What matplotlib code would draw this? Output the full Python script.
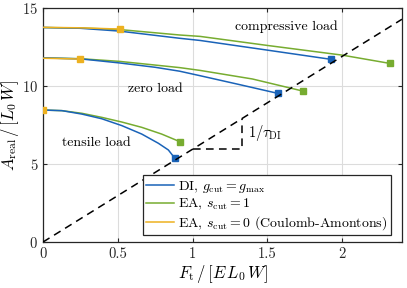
import matplotlib
matplotlib.use("Agg")
import matplotlib.pyplot as plt
import numpy as np

plt.rcParams['font.family'] = 'serif'
plt.rcParams['font.serif'] = ['cmr10']
plt.rcParams['mathtext.fontset'] = 'cm'
plt.rcParams['axes.formatter.use_mathtext'] = True

BLUE = '#1a63b8'
GREEN = '#77AC30'
ORANGE = '#EDB120'

# DI, g_cut = g_max
di_comp_x = [0.0, 0.25, 0.51, 0.913, 1.05, 1.5, 1.925]
di_comp_y = [13.75, 13.7, 13.52, 13.06, 12.92, 12.3, 11.71]
di_zero_x = [0.0, 0.25, 0.51, 0.75, 0.913, 1.05, 1.3, 1.569]
di_zero_y = [11.8, 11.74, 11.48, 11.2, 10.95, 10.66, 10.12, 9.53]
di_tens_x = [0.0, 0.127, 0.26, 0.393, 0.527, 0.66, 0.771, 0.838, 0.882]
di_tens_y = [8.46, 8.42, 8.2, 7.9, 7.46, 6.92, 6.33, 5.9, 5.36]

# EA, s_cut = 1
ea1_comp_x = [0.0, 0.25, 0.51, 0.913, 1.05, 1.5, 2.0, 2.318]
ea1_comp_y = [13.75, 13.72, 13.62, 13.27, 13.18, 12.6, 11.98, 11.45]
ea1_zero_x = [0.0, 0.25, 0.51, 0.913, 1.05, 1.4, 1.735]
ea1_zero_y = [11.8, 11.75, 11.58, 11.18, 11.0, 10.45, 9.68]
ea1_tens_x = [0.0, 0.127, 0.26, 0.393, 0.527, 0.66, 0.793, 0.915]
ea1_tens_y = [8.46, 8.42, 8.25, 7.99, 7.69, 7.35, 6.92, 6.43]

# EA, s_cut = 0 (Coulomb-Amontons)
ea0_comp_x = [0.0, 0.25, 0.513]
ea0_comp_y = [13.76, 13.73, 13.65]
ea0_zero_x = [0.0, 0.247]
ea0_zero_y = [11.78, 11.73]
ea0_tens_x = [0.0]
ea0_tens_y = [8.46]

slope_inv_tau = 5.95
x_max = 2.4
tri_x0, tri_x1 = 1.0, 1.33

fig = plt.figure(figsize=(4.07, 2.88), dpi=100)
ax = fig.add_axes([0.1057, 0.1597, 0.882, 0.8125])

lw = 1.1
ms = 3.8
series = [
    (BLUE, r'DI, $g_\mathrm{cut} = g_\mathrm{max}$',
     [(di_comp_x, di_comp_y), (di_zero_x, di_zero_y), (di_tens_x, di_tens_y)], 3),
    (GREEN, r'EA, $s_\mathrm{cut} = 1$',
     [(ea1_comp_x, ea1_comp_y), (ea1_zero_x, ea1_zero_y), (ea1_tens_x, ea1_tens_y)], 2),
    (ORANGE, r'EA, $s_\mathrm{cut} = 0$ (Coulomb-Amontons)',
     [(ea0_comp_x, ea0_comp_y), (ea0_zero_x, ea0_zero_y), (ea0_tens_x, ea0_tens_y)], 4),
]
handles = []
for color, label, curves, z in series:
    for i, (xs, ys) in enumerate(curves):
        h, = ax.plot(xs, ys, color=color, lw=lw, zorder=z,
                     label=label if i == 0 else None)
        ax.plot([xs[-1]], [ys[-1]], 's', color=color, ms=ms, zorder=z + 0.5)
        if i == 0:
            handles.append(h)

# dashed line 1/tau
xl = np.array([0.0, x_max])
ax.plot(xl, slope_inv_tau * xl, '--', color='k', lw=1.1, dashes=(5, 3.5), zorder=5)
y0 = slope_inv_tau * tri_x0
y1 = slope_inv_tau * tri_x1
ax.plot([tri_x0, tri_x1, tri_x1], [y0, y0, y1], '--', color='k', lw=1.1,
        dashes=(5, 3.5), zorder=5)
ax.text(tri_x1 + 0.04, (y0 + y1) / 2 + 0.05, r'$1/\tau_\mathrm{DI}$', fontsize=10.5,
        va='center', ha='left')

ax.text(1.63, 13.8, 'compressive load', fontsize=10, ha='center', va='center')
ax.text(0.75, 9.8, 'zero load', fontsize=10, ha='center', va='center')
ax.text(0.355, 6.36, 'tensile load', fontsize=10, ha='center', va='center')

ax.set_xlim(0, x_max)
ax.set_ylim(0, 15)
ax.set_xticks([0, 0.5, 1, 1.5, 2])
ax.set_xticklabels(['0', '0.5', '1', '1.5', '2'])
ax.set_yticks([0, 5, 10, 15])
ax.grid(True, color='#dcdcdc', lw=0.8)
ax.set_axisbelow(True)
ax.tick_params(direction='in', top=True, right=True, length=3, width=0.8,
               labelsize=10.5, colors='#262626', labelcolor='#262626')
for s in ax.spines.values():
    s.set_color('#262626')
    s.set_linewidth(0.9)

ax.set_xlabel(r'$F_\mathrm{t}\,/\,[E\,L_0\,W]$', fontsize=12, labelpad=2)
ax.set_ylabel(r'$A_\mathrm{real}\,/\,[L_0\,W]$', fontsize=12, labelpad=1)

leg = ax.legend(handles=handles, loc='lower right', bbox_to_anchor=(0.968, 0.028),
                fontsize=10, frameon=True, fancybox=False, framealpha=1,
                edgecolor='#262626', handlelength=2.0, handletextpad=0.25,
                borderpad=0.25, labelspacing=0.15, borderaxespad=0)
leg.get_frame().set_linewidth(0.9)
leg.set_zorder(10)

fig.savefig('out.png', dpi=100)
